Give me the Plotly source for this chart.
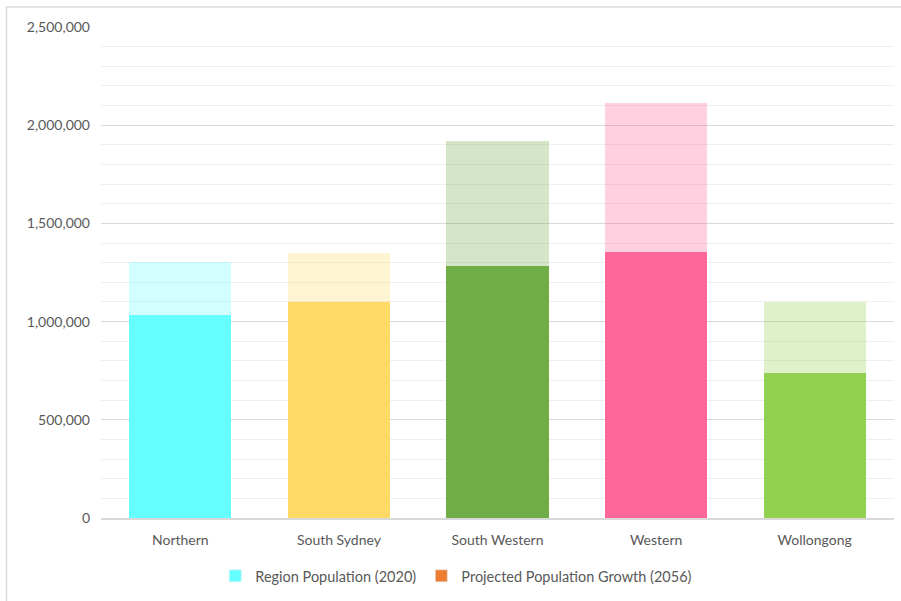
import plotly.graph_objects as go

regions = ["Northern", "South Sydney", "South Western", "Western", "Wollongong"]
population_2020 = [1034000, 1100000, 1282000, 1353000, 740000]
growth_2056 = [270000, 249000, 636000, 762000, 360000]

base_colors = ["#66FFFF", "#FFD966", "#70AD47", "#FF6699", "#92D050"]
growth_colors = ["rgba(102,255,255,0.3)", "rgba(255,217,102,0.3)", "rgba(112,173,71,0.3)",
                 "rgba(255,102,153,0.3)", "rgba(146,208,80,0.3)"]

text_color = "#595959"
font_family = "Lato, 'Open Sans', sans-serif"

fig = go.Figure()
fig.add_trace(go.Bar(x=regions, y=population_2020, marker=dict(color=base_colors, line=dict(width=0)),
                     name="Region Population (2020)", showlegend=False))
fig.add_trace(go.Bar(x=regions, y=growth_2056, marker=dict(color=growth_colors, line=dict(width=0)),
                     name="Projected Population Growth (2056)", showlegend=False))

# legend entries with the series' key colours
fig.add_trace(go.Bar(x=[None], y=[None], marker_color="#66FFFF", name="Region Population (2020)"))
fig.add_trace(go.Bar(x=[None], y=[None], marker_color="#ED7D31", name="Projected Population Growth (2056)"))

fig.update_layout(
    barmode="stack",
    bargap=0.355,
    width=901, height=601,
    margin=dict(l=101, r=7, t=27, b=83),
    paper_bgcolor="white", plot_bgcolor="white",
    font=dict(family=font_family, size=14, color=text_color),
    legend=dict(orientation="h", traceorder="normal", x=0.448, xanchor="center", y=-0.118,
                yanchor="middle", font=dict(size=14.5, color=text_color), itemwidth=30,
                tracegroupgap=0),
    shapes=[
        dict(type="line", xref="paper", yref="paper", x0=-0.12, x1=1.01, y0=1.0407, y1=1.0407,
             line=dict(color="#D9D9D9", width=1.5)),
        dict(type="line", xref="paper", yref="paper", x0=-0.1192, x1=-0.1192, y0=1.0407, y1=-0.2,
             line=dict(color="#D9D9D9", width=1.5)),
    ],
)

fig.update_xaxes(showline=True, linecolor="#D9D9D9", linewidth=1.5, ticks="",
                 ticklabelstandoff=8, tickfont=dict(size=14, color=text_color))
fig.update_yaxes(range=[0, 2500000], dtick=500000, tickformat=",d",
                 showgrid=True, gridcolor="#D9D9D9", gridwidth=1.2,
                 minor=dict(dtick=100000, showgrid=True, gridcolor="#EFEFEF", gridwidth=1),
                 zeroline=False, showline=False, ticks="", ticklabelstandoff=10,
                 tickfont=dict(size=14, color=text_color))

fig.write_html("out.html")
